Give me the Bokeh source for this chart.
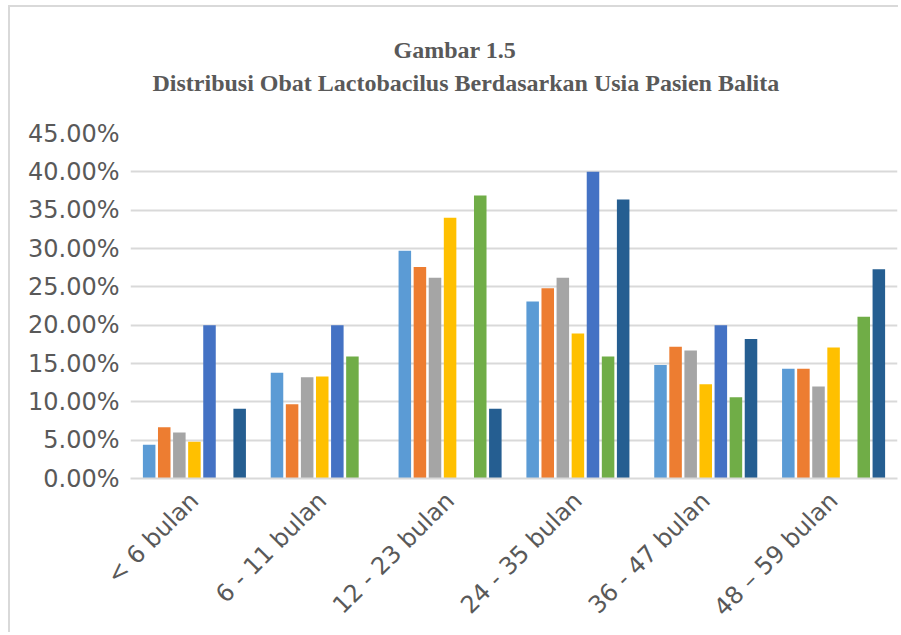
from bokeh.plotting import figure
from bokeh.models import FactorRange, Title, NumeralTickFormatter, FixedTicker, ColumnDataSource
from bokeh.transform import dodge
from bokeh.embed import file_html
from bokeh.resources import INLINE
import math

categories = ["< 6 bulan", "6 - 11 bulan", "12 - 23 bulan", "24 - 35 bulan", "36 - 47 bulan", "48 \u2013 59 bulan"]

s1 = [0.044, 0.138, 0.297, 0.231, 0.148, 0.143]
s2 = [0.067, 0.097, 0.276, 0.248, 0.172, 0.143]
s3 = [0.060, 0.132, 0.262, 0.262, 0.167, 0.120]
s4 = [0.048, 0.133, 0.340, 0.189, 0.123, 0.171]
s5 = [0.200, 0.200, 0.000, 0.400, 0.200, 0.000]
s6 = [0.000, 0.159, 0.369, 0.159, 0.106, 0.211]
s7 = [0.091, 0.000, 0.091, 0.364, 0.182, 0.273]

series = [s1, s2, s3, s4, s5, s6, s7]
colors = ["#5B9BD5", "#ED7D31", "#A5A5A5", "#FFC000", "#4472C4", "#70AD47", "#255E91"]

y_ticks = [0.0, 0.05, 0.10, 0.15, 0.20, 0.25, 0.30, 0.35, 0.40, 0.45]

title_line1 = "Gambar 1.5"
title_line2 = "Distribusi Obat Lactobacilus Berdasarkan Usia Pasien Balita"

data = {"cat": categories}
for i, s in enumerate(series):
    data["s%d" % i] = s
source = ColumnDataSource(data)

p = figure(x_range=FactorRange(factors=categories, range_padding=0),
           y_range=(0, 0.45), width=890, height=627,
           output_backend="svg", toolbar_location=None,
           min_border_left=120, min_border_right=3,
           min_border_top=126, min_border_bottom=156)

pitch = 0.118
bw = 0.098
for i in range(7):
    p.vbar(x=dodge("cat", (i - 3) * pitch, range=p.x_range), top="s%d" % i,
           width=bw, source=source, color=colors[i], line_color=None)

title_style = dict(align="left", text_font="Liberation Serif", text_font_size="24px",
                   text_font_style="bold", text_color="#595959")
spacer_bottom = Title(text=" ", align="left", text_font_size="1px", standoff=32)
t2 = Title(text=title_line2, offset=22, standoff=6, **title_style)
t1 = Title(text=title_line1, offset=263, standoff=4, **title_style)
spacer_top = Title(text=" ", align="left", text_font_size="1px", standoff=14)
p.add_layout(spacer_bottom, "above")
p.add_layout(t2, "above")
p.add_layout(t1, "above")
p.add_layout(spacer_top, "above")

p.yaxis.ticker = FixedTicker(ticks=y_ticks)
p.yaxis.formatter = NumeralTickFormatter(format="0.00%")
p.yaxis.axis_line_color = None
p.yaxis.major_tick_line_color = None
p.yaxis.minor_tick_line_color = None
p.yaxis.major_label_text_font = "DejaVu Sans"
p.yaxis.major_label_text_font_size = "24px"
p.yaxis.major_label_text_color = "#595959"
p.yaxis.major_label_standoff = 5

p.xaxis.axis_line_color = "#D9D9D9"
p.xaxis.axis_line_width = 2
p.xaxis.major_tick_line_color = None
p.xaxis.minor_tick_line_color = None
p.xaxis.major_label_orientation = math.pi / 4
p.xaxis.major_label_text_font = "DejaVu Sans"
p.xaxis.major_label_text_font_size = "24px"
p.xaxis.major_label_text_color = "#595959"
p.xaxis.major_label_standoff = 12

p.xgrid.grid_line_color = None
p.ygrid.grid_line_color = "#D9D9D9"
p.ygrid.grid_line_width = 2
p.outline_line_color = None
p.styles = {"margin-left": "8px", "margin-top": "5px",
            "border-left": "2px solid #D9D9D9", "border-top": "2px solid #D9D9D9"}

open("out.html", "w").write(file_html(p, INLINE))
